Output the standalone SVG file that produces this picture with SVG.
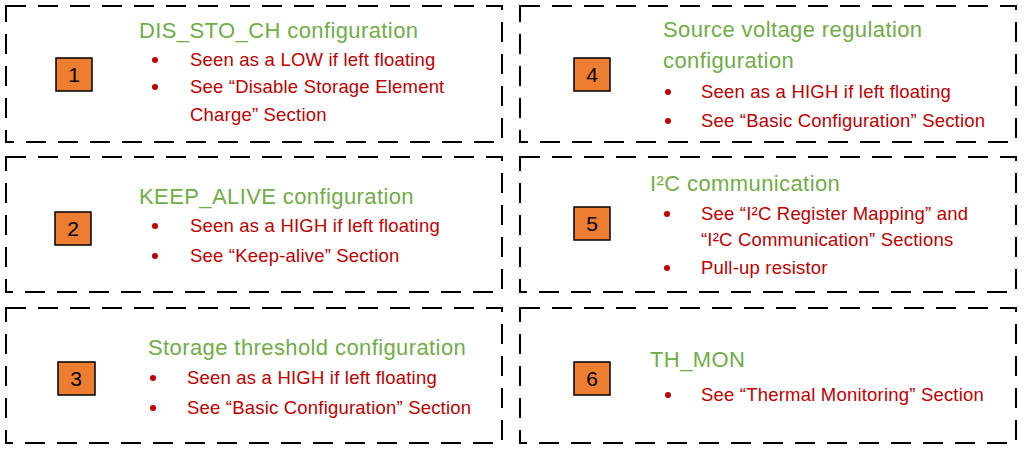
<svg xmlns="http://www.w3.org/2000/svg" width="1024" height="454" viewBox="0 0 1024 454">
<style>
.frame{fill:none;stroke:#000;stroke-width:2;stroke-dasharray:20 12}
.num{fill:#ED7D31;stroke:#000;stroke-width:1.5}
.nt{font-family:"Liberation Sans",Arial,sans-serif;font-size:21px;fill:#000;text-anchor:middle}
.t{font-family:"Liberation Sans",Arial,sans-serif;font-size:22px;letter-spacing:0.4px;fill:#70AD47}
.b{font-family:"Liberation Sans",Arial,sans-serif;font-size:18.5px;letter-spacing:0.2px;fill:#C00000}
.d{fill:#C00000}
</style>
<rect width="1024" height="454" fill="#fff"/>
<g id="node1">
<rect class="frame" x="6" y="6" width="496" height="136"/>
<rect class="num" x="56" y="58" width="36" height="33"/><text class="nt" x="74" y="82">1</text>
<text class="t" x="139" y="38">DIS_STO_CH configuration</text>
<circle class="d" cx="155" cy="60" r="3"/><text class="b" x="190" y="66">Seen as a LOW if left floating</text>
<circle class="d" cx="155" cy="87" r="3"/><text class="b" x="190" y="93">See “Disable Storage Element</text>
<text class="b" x="190" y="121">Charge” Section</text>
</g>
<g id="node2">
<rect class="frame" x="6" y="157" width="496" height="135"/>
<rect class="num" x="55" y="212" width="36" height="33"/><text class="nt" x="73" y="236">2</text>
<text class="t" x="139" y="204">KEEP_ALIVE configuration</text>
<circle class="d" cx="155" cy="226" r="3"/><text class="b" x="190" y="232">Seen as a HIGH if left floating</text>
<circle class="d" cx="155" cy="256" r="3"/><text class="b" x="190" y="262">See “Keep-alive” Section</text>
</g>
<g id="node3">
<rect class="frame" x="6" y="308" width="496" height="135"/>
<rect class="num" x="58" y="362" width="37" height="33"/><text class="nt" x="76" y="386">3</text>
<text class="t" x="148" y="355">Storage threshold configuration</text>
<circle class="d" cx="153" cy="378" r="3"/><text class="b" x="187" y="384">Seen as a HIGH if left floating</text>
<circle class="d" cx="153" cy="408" r="3"/><text class="b" x="187" y="414">See “Basic Configuration” Section</text>
</g>
<g id="node4">
<rect class="frame" x="520" y="6" width="496" height="136"/>
<rect class="num" x="574" y="58" width="36" height="33"/><text class="nt" x="592" y="82">4</text>
<text class="t" x="663" y="37">Source voltage regulation</text>
<text class="t" x="663" y="68">configuration</text>
<circle class="d" cx="668" cy="92" r="3"/><text class="b" x="701" y="98">Seen as a HIGH if left floating</text>
<circle class="d" cx="668" cy="121" r="3"/><text class="b" x="701" y="127">See “Basic Configuration” Section</text>
</g>
<g id="node5">
<rect class="frame" x="520" y="157" width="496" height="135"/>
<rect class="num" x="574" y="207" width="36" height="33"/><text class="nt" x="592" y="231">5</text>
<text class="t" x="650" y="191">I²C communication</text>
<circle class="d" cx="667" cy="214" r="3"/><text class="b" x="701" y="220">See “I²C Register Mapping” and</text>
<text class="b" x="701" y="246">“I²C Communication” Sections</text>
<circle class="d" cx="667" cy="268" r="3"/><text class="b" x="701" y="274">Pull-up resistor</text>
</g>
<g id="node6">
<rect class="frame" x="520" y="308" width="496" height="135"/>
<rect class="num" x="574" y="362" width="36" height="33"/><text class="nt" x="592" y="386">6</text>
<text class="t" x="650" y="367">TH_MON</text>
<circle class="d" cx="668" cy="395" r="3"/><text class="b" x="701" y="401">See “Thermal Monitoring” Section</text>
</g>
<g id="connectors"/>
</svg>
